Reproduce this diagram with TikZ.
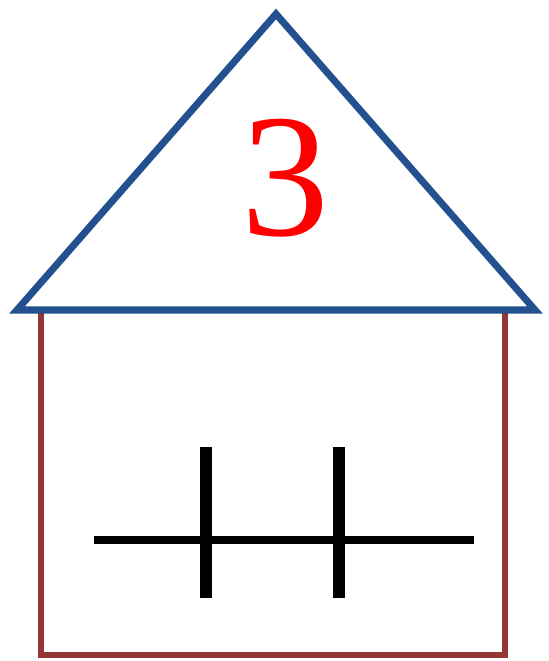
\documentclass[tikz,border=0pt]{standalone}
\usepackage{fontspec}
\setmainfont{Liberation Serif}
\usetikzlibrary{positioning,calc}
\definecolor{roof}{HTML}{23508F}
\definecolor{wall}{HTML}{943634}
\definecolor{digit}{HTML}{FF0000}

\begin{document}
\begin{tikzpicture}[x=0.02cm,y=-0.02cm,
  roofline/.style={draw=roof, line width=4pt, line join=miter},
  wallline/.style={draw=wall, line width=3.4pt},
  wire/.style={draw=black, line width=4.6pt},
  plate/.style={draw=black, line width=6.8pt}]
\useasboundingbox (0,0) rectangle (548,661);
\coordinate (top) at (276,14);
\coordinate (bl) at (17,310);
\coordinate (br) at (535,310);
\coordinate (wallnw) at (41,310);
\coordinate (wallsw) at (41,655);
\coordinate (wallse) at (505,655);
\coordinate (wallne) at (505,310);
\draw[wallline] (wallnw) -- (wallsw) -- (wallse) -- (wallne);
\draw[roofline] (bl) -- (top) -- (br) -- cycle;
\node[text=digit, font=\fontsize{100}{100}\selectfont, inner sep=0pt] (num) at (285,178) {3};
\coordinate (wl) at (94,540);
\coordinate (wr) at (474,540);
\draw[wire] (wl) -- (wr);
\foreach \p/\x in {a/206,b/339}{
  \coordinate (\p up) at (\x,447);
  \coordinate (\p dn) at (\x,598);
  \draw[plate] (\p up) -- (\p dn);
}
\end{tikzpicture}
\end{document}
